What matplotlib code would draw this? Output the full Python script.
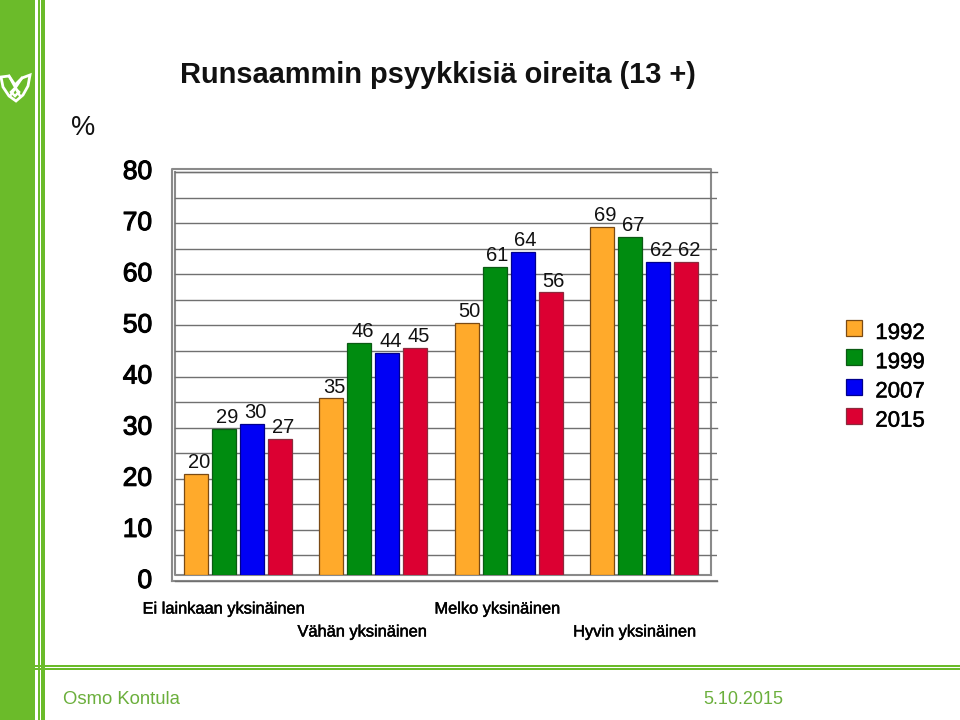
import matplotlib
matplotlib.use('Agg')
import matplotlib.pyplot as plt
import matplotlib.patheffects as pe
from matplotlib.patches import Rectangle, Polygon
from matplotlib.transforms import ScaledTranslation

plt.rcParams['font.family'] = ['Liberation Sans', 'DejaVu Sans']

categories = ['Ei lainkaan yksinäinen', 'Vähän yksinäinen', 'Melko yksinäinen', 'Hyvin yksinäinen']
years = ['1992', '1999', '2007', '2015']
values_1992 = [20, 35, 50, 69]
values_1999 = [29, 46, 61, 67]
values_2007 = [30, 44, 64, 62]
values_2015 = [27, 45, 56, 62]
y_ticks = [0, 10, 20, 30, 40, 50, 60, 70, 80]
grid_ticks = [0, 5, 10, 15, 20, 25, 30, 35, 40, 45, 50, 55, 60, 65, 70, 75, 80]

bar_colors = ['#FFAA2B', '#008C10', '#0000F5', '#DC0032']
edge_colors = ['#7A4A14', '#0B5A14', '#00008C', '#8C2A3C']
GREEN = '#6BBB2A'
W, H = 960, 720


def rect(left, right, top, bottom):
    # pixel box (from top left) -> figure fractions
    return [left / W, 1 - bottom / H, (right - left) / W, (bottom - top) / H]


def shift(dx, dy):
    return ScaledTranslation(dx / 100, dy / 100, fig.dpi_scale_trans)


fig = plt.figure(figsize=(9.6, 7.2), dpi=100)

# slide decoration, drawn in pixel coordinates
deco = fig.add_axes([0, 0, 1, 1], zorder=0)
deco.set_xlim(0, W)
deco.set_ylim(H, 0)
deco.axis('off')
deco.add_patch(Rectangle((0, 0), 35, H, color=GREEN, lw=0))
deco.add_patch(Rectangle((38, 0), 1.6, H, color=GREEN, lw=0))
deco.add_patch(Rectangle((41, 0), 4, H, color=GREEN, lw=0))
deco.add_patch(Rectangle((35, 665), W - 35, 1.5, color=GREEN, lw=0))
deco.add_patch(Rectangle((35, 667.5), W - 35, 2.8, color=GREEN, lw=0))
# logo
logo_outer = [(1, 77), (9, 76), (15, 85), (22, 78), (30, 75), (28, 86), (23, 95), (16, 101), (9, 96), (3, 87)]
deco.add_patch(Polygon(logo_outer, closed=True, fc='none', ec='white', lw=2))
deco.plot([9, 20], [76, 96], color='white', lw=1.8)
deco.plot([22, 10], [78, 96], color='white', lw=1.8)
deco.add_patch(Polygon([(15, 88), (19, 92), (15, 96), (11, 92)], closed=True, fc='none', ec='white', lw=1.8))

# chart frame
frame = '#8A8A8A'
deco.plot([172, 172, 711, 711], [581, 169, 169, 575], color=frame, lw=1.5)
deco.plot([175, 175, 711], [172, 575, 575], color=frame, lw=1.5)
deco.plot([175, 711], [172, 172], color=frame, lw=1)
deco.plot([172, 717], [581, 581], color=frame, lw=1.5)

# wall with the gridlines, sits a bit lower than the bars
wall = fig.add_axes(rect(175, 717, 172, 581), zorder=1)
wall.patch.set_visible(False)
wall.set_xlim(0, 1)
wall.set_ylim(0, 80)
wall.set_xticks([])
wall.set_yticks(grid_ticks, minor=True)
wall.set_yticks(y_ticks)
wall.grid(True, which='both', axis='y', color='#707070', lw=1.0)
wall.tick_params(which='both', axis='y', length=0)
wall.tick_params(axis='y', pad=16.5, labelsize=19)
for s in wall.spines.values():
    s.set_visible(False)
for line in wall.get_ygridlines():
    line.set_clip_on(False)
for lab in wall.get_yticklabels():
    lab.set_transform(lab.get_transform() + shift(0, 2.5))
    lab.set_path_effects([pe.withStroke(linewidth=0.8, foreground='black')])

# bars
ax = fig.add_axes(rect(172, 711, 171, 575), zorder=2)
ax.patch.set_visible(False)
ax.set_xlim(-0.488, 3.496)
ax.set_ylim(0, 80)
ax.set_yticks([])
for s in ax.spines.values():
    s.set_visible(False)

series = [values_1992, values_1999, values_2007, values_2015]
for i, vals in enumerate(series):
    xs = [c + (i - 1.5) * 0.2066 for c in range(len(categories))]
    ax.bar(xs, vals, width=0.177, color=bar_colors[i], edgecolor=edge_colors[i], lw=0.9, label=years[i])
    for x, v in zip(xs, vals):
        ax.annotate(str(v), (x, v), xytext=(2.2, 8.0), textcoords='offset points',
                    ha='center', va='center', fontsize=14.5, color='#111111')

# staggered category labels, each a bit left of its group
label_dx = [-14, -11, -11, -9]
ax.set_xticks(range(len(categories)))
ax.set_xticklabels(categories, fontsize=11.8)
for k, tick in enumerate(ax.xaxis.get_major_ticks()):
    tick.tick1line.set_visible(False)
    tick.label1.set_va('center')
    dy = -34 if k % 2 == 0 else -57
    tick.label1.set_transform(ax.get_xaxis_transform() + shift(label_dx[k], dy))
    tick.label1.set_y(0)
    tick.label1.set_path_effects([pe.withStroke(linewidth=0.35, foreground='black')])

leg = ax.legend(loc='upper left', bbox_to_anchor=(846 / W, 1 - 323 / H), bbox_transform=fig.transFigure,
                frameon=False, fontsize=16, handlelength=0.72, handleheight=0.72,
                labelspacing=0.37, handletextpad=0.6, borderpad=0, borderaxespad=0)
for t in leg.get_texts():
    t.set_path_effects([pe.withStroke(linewidth=0.4, foreground='#111111')])
for h in leg.legend_handles:
    h.set_y(h.get_y() + 2.2)

fig.text(180 / W, 1 - 75 / H, 'Runsaammin psyykkisiä oireita (13 +)', fontsize=20.9, fontweight='bold',
         ha='left', va='center', color='#111111')
fig.text(71 / W, 1 - 128 / H, '%', fontsize=19.5, ha='left', va='center', color='#111111')
fig.text(63 / W, 1 - 700 / H, 'Osmo Kontula', fontsize=13.3, ha='left', va='center', color='#6BAF3C')
fig.text(783 / W, 1 - 700 / H, '5.10.2015', fontsize=13, ha='right', va='center', color='#6BAF3C')

fig.savefig('out.png', dpi=100)
